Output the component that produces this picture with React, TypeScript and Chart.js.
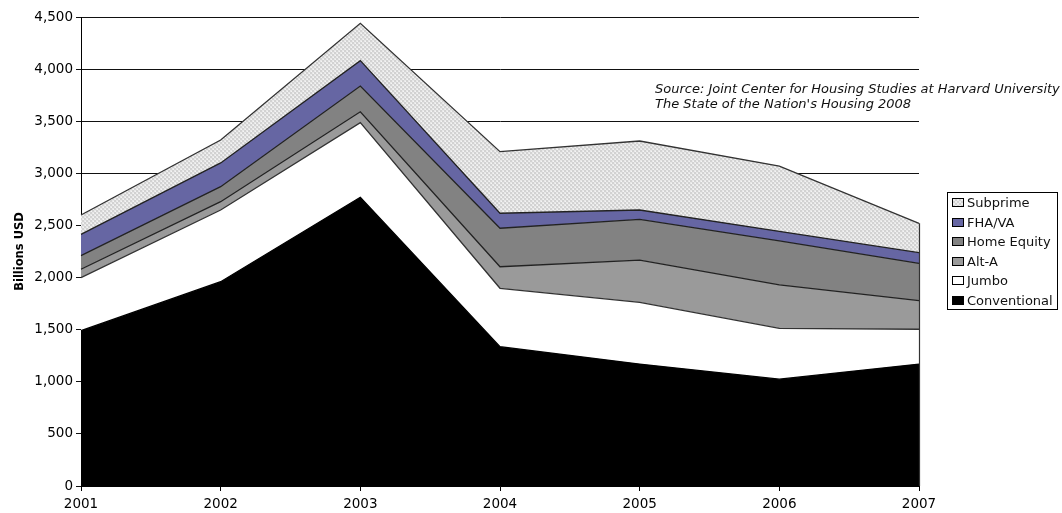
import React, { useEffect, useRef } from "react";
import { Chart, registerables } from "chart.js";

Chart.register(...registerables);

// ---- data (billions USD) ----
const years = ["2001", "2002", "2003", "2004", "2005", "2006", "2007"];
const conventional = [1490, 1960, 2770, 1337, 1170, 1025, 1170];
const jumbo = [510, 688, 716, 560, 592, 488, 334];
const altA = [80, 80, 105, 207, 406, 416, 274];
const homeEquity = [130, 144, 247, 369, 391, 422, 359];
const fhaVa = [205, 228, 243, 144, 89, 93, 102];
const subprime = [185, 220, 359, 591, 662, 626, 281];
const yTickValues = [0, 500, 1000, 1500, 2000, 2500, 3000, 3500, 4000, 4500];

const seriesNames = ["Conventional", "Jumbo", "Alt-A", "Home Equity", "FHA/VA", "Subprime"];
const seriesValues = [conventional, jumbo, altA, homeEquity, fhaVa, subprime];
const seriesColors = ["#000000", "#ffffff", "#9a9a9a", "#828282", "#6666a3", "pattern"];
const seriesBorders = ["#000000", "#333333", "#222222", "#222222", "#222222", "#333333"];
const legendOrder = [5, 4, 3, 2, 1, 0];

const FONT = "'DejaVu Sans', sans-serif";

function makePattern(): CanvasPattern | string {
  const c = document.createElement("canvas");
  c.width = 4;
  c.height = 4;
  const g = c.getContext("2d");
  if (!g) return "#dddddd";
  g.fillStyle = "#d2d2d2";
  g.fillRect(0, 0, 4, 4);
  g.fillStyle = "#e8e8e8";
  g.fillRect(0, 0, 2, 2);
  g.fillRect(2, 2, 2, 2);
  g.fillStyle = "#f4f4f4";
  g.fillRect(1, 1, 1, 1);
  g.fillRect(3, 3, 1, 1);
  const p = g.createPattern(c, "repeat");
  return p || "#dddddd";
}

const edgePlugin = {
  id: "rightEdge",
  afterDatasetsDraw(chart: any) {
    const last = years.length - 1;
    const total = seriesValues.reduce((s, arr) => s + arr[last], 0);
    const xs = chart.scales.x;
    const ys = chart.scales.y;
    const x = Math.round(xs.getPixelForValue(last)) + 0.5;
    const ctx = chart.ctx;
    ctx.save();
    ctx.strokeStyle = "#333333";
    ctx.lineWidth = 1.2;
    ctx.beginPath();
    ctx.moveTo(x, ys.getPixelForValue(total));
    ctx.lineTo(x, ys.getPixelForValue(0));
    ctx.stroke();
    ctx.restore();
  },
};

export default function App() {
  const ref = useRef<HTMLCanvasElement | null>(null);

  useEffect(() => {
    if (!ref.current) return;
    const pattern = makePattern();
    const datasets = seriesNames.map((name, i) => ({
      label: name,
      data: seriesValues[i],
      backgroundColor: seriesColors[i] === "pattern" ? pattern : seriesColors[i],
      borderColor: seriesBorders[i],
      borderWidth: 1.3,
      pointRadius: 0,
      tension: 0,
      fill: i === 0 ? "origin" : "-1",
    }));
    const chart = new Chart(ref.current, {
      type: "line",
      data: { labels: years, datasets: datasets as any },
      plugins: [edgePlugin],
      options: {
        animation: false,
        responsive: false,
        maintainAspectRatio: false,
        layout: { padding: { top: 17, right: 143, left: 0, bottom: 0 } },
        plugins: {
          legend: { display: false },
          tooltip: { enabled: false },
        },
        scales: {
          x: {
            type: "category",
            offset: false,
            afterFit: (s: any) => {
              s.height = 27;
            },
            grid: {
              drawOnChartArea: false,
              drawTicks: true,
              tickLength: 5,
              color: "#000000",
            },
            border: { display: true, color: "#000000", width: 1 },
            ticks: {
              color: "#000000",
              font: { family: FONT, size: 13.5 },
              padding: 5,
              maxRotation: 0,
              autoSkip: false,
            },
          },
          y: {
            stacked: true,
            min: 0,
            max: 4500,
            afterFit: (s: any) => {
              s.width = 81;
            },
            afterBuildTicks: (s: any) => {
              s.ticks = yTickValues.map((v) => ({ value: v }));
            },
            grid: {
              drawOnChartArea: true,
              drawTicks: true,
              tickLength: 5,
              color: "#111111",
              lineWidth: 1,
            },
            border: { display: true, color: "#000000", width: 1 },
            ticks: {
              color: "#000000",
              font: { family: FONT, size: 13.5 },
              padding: 3,
              callback: (v: any) => Number(v).toLocaleString("en-US"),
            },
            title: {
              display: true,
              text: "Billions USD",
              color: "#000000",
              font: { family: FONT, size: 11.5, weight: "bold" },
              padding: { top: 13, bottom: 0 },
            },
          },
        },
      },
    });
    return () => chart.destroy();
  }, []);

  const swatchBg = (i: number) =>
    seriesColors[i] === "pattern"
      ? "repeating-conic-gradient(#d2d2d2 0 25%, #ececec 0 50%) 0 0 / 4px 4px"
      : seriesColors[i];

  return (
    <div style={{ position: "absolute", left: 0, top: 0, width: 1062, height: 513, background: "#fff" }}>
      <canvas ref={ref} width={1062} height={513} style={{ position: "absolute", left: 0, top: 0 }} />
      <div
        style={{
          position: "absolute",
          left: 655,
          top: 81,
          fontFamily: FONT,
          fontStyle: "italic",
          fontSize: 13,
          lineHeight: "15px",
          color: "#111",
          whiteSpace: "nowrap",
        }}
      >
        <div>Source: Joint Center for Housing Studies at Harvard University</div>
        <div>The State of the Nation's Housing 2008</div>
      </div>
      <div
        style={{
          position: "absolute",
          left: 947,
          top: 192,
          width: 109,
          height: 116,
          border: "1px solid #000",
          boxSizing: "content-box",
          fontFamily: FONT,
          fontSize: 13,
          color: "#111",
        }}
      >
        {legendOrder.map((i) => (
          <div
            key={seriesNames[i]}
            style={{ height: 19.5, display: "flex", alignItems: "center", paddingLeft: 4, whiteSpace: "nowrap" }}
          >
            <span
              style={{
                display: "inline-block",
                width: 10,
                height: 7,
                border: "1px solid #000",
                background: swatchBg(i),
                marginRight: 3,
                flexShrink: 0,
              }}
            />
            <span>{seriesNames[i]}</span>
          </div>
        ))}
      </div>
    </div>
  );
}
